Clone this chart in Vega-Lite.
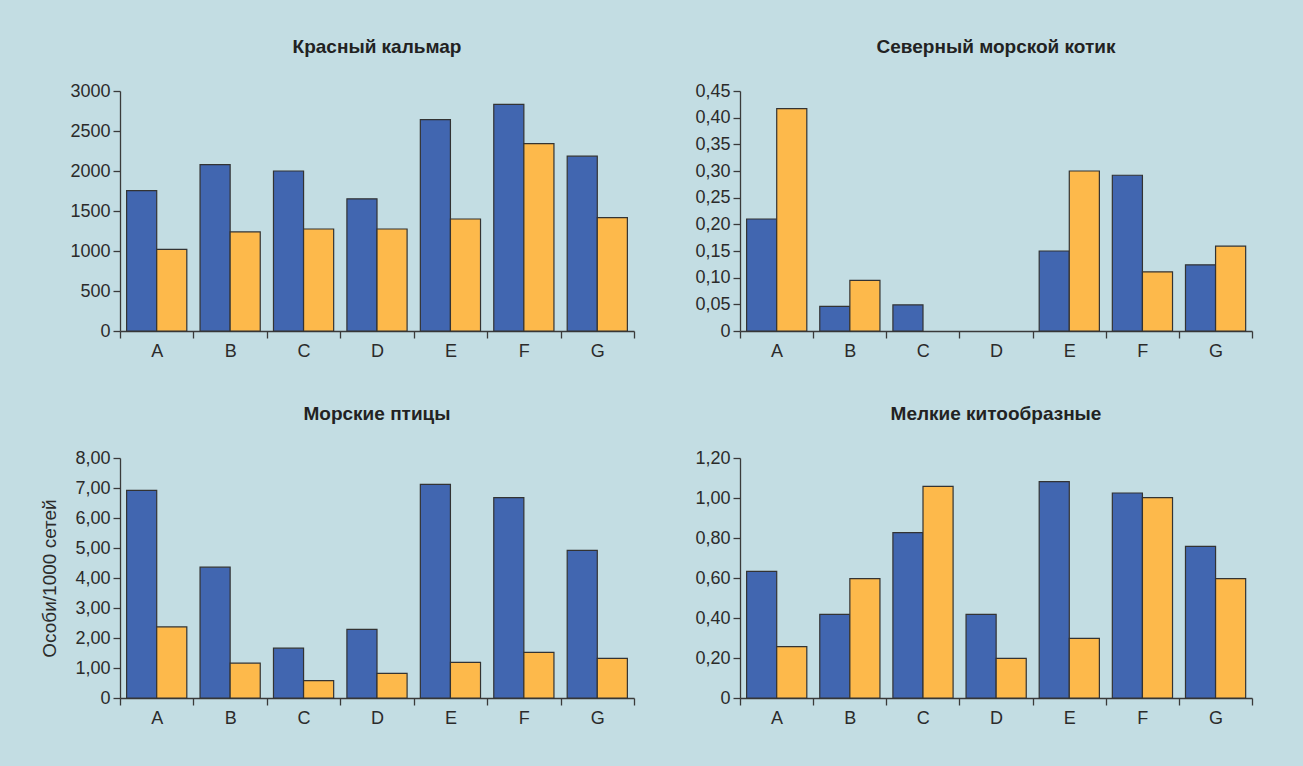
{
  "$schema": "https://vega.github.io/schema/vega-lite/v6.json",
  "background": "#c3dde3",
  "padding": {"left": 40, "top": 38, "right": 50, "bottom": 40},
  "datasets": {
    "kalmar": [
      {"участок": "A", "ряд": "1", "значение": 1755},
      {"участок": "A", "ряд": "2", "значение": 1020},
      {"участок": "B", "ряд": "1", "значение": 2080},
      {"участок": "B", "ряд": "2", "значение": 1238},
      {"участок": "C", "ряд": "1", "значение": 2000},
      {"участок": "C", "ряд": "2", "значение": 1275},
      {"участок": "D", "ряд": "1", "значение": 1652},
      {"участок": "D", "ряд": "2", "значение": 1275},
      {"участок": "E", "ряд": "1", "значение": 2642},
      {"участок": "E", "ряд": "2", "значение": 1400},
      {"участок": "F", "ряд": "1", "значение": 2833},
      {"участок": "F", "ряд": "2", "значение": 2342},
      {"участок": "G", "ряд": "1", "значение": 2185},
      {"участок": "G", "ряд": "2", "значение": 1417}
    ],
    "kotik": [
      {"участок": "A", "ряд": "1", "значение": 0.21},
      {"участок": "A", "ряд": "2", "значение": 0.417},
      {"участок": "B", "ряд": "1", "значение": 0.046},
      {"участок": "B", "ряд": "2", "значение": 0.095},
      {"участок": "C", "ряд": "1", "значение": 0.049},
      {"участок": "E", "ряд": "1", "значение": 0.15},
      {"участок": "E", "ряд": "2", "значение": 0.30},
      {"участок": "F", "ряд": "1", "значение": 0.292},
      {"участок": "F", "ряд": "2", "значение": 0.111},
      {"участок": "G", "ряд": "1", "значение": 0.124},
      {"участок": "G", "ряд": "2", "значение": 0.159}
    ],
    "ptitsy": [
      {"участок": "A", "ряд": "1", "значение": 6.92},
      {"участок": "A", "ряд": "2", "значение": 2.37},
      {"участок": "B", "ряд": "1", "значение": 4.36},
      {"участок": "B", "ряд": "2", "значение": 1.16},
      {"участок": "C", "ряд": "1", "значение": 1.66},
      {"участок": "C", "ряд": "2", "значение": 0.58},
      {"участок": "D", "ряд": "1", "значение": 2.29},
      {"участок": "D", "ряд": "2", "значение": 0.82},
      {"участок": "E", "ряд": "1", "значение": 7.12},
      {"участок": "E", "ряд": "2", "значение": 1.19},
      {"участок": "F", "ряд": "1", "значение": 6.68},
      {"участок": "F", "ряд": "2", "значение": 1.52},
      {"участок": "G", "ряд": "1", "значение": 4.92},
      {"участок": "G", "ряд": "2", "значение": 1.32}
    ],
    "kitoobraznye": [
      {"участок": "A", "ряд": "1", "значение": 0.633},
      {"участок": "A", "ряд": "2", "значение": 0.257},
      {"участок": "B", "ряд": "1", "значение": 0.418},
      {"участок": "B", "ряд": "2", "значение": 0.597},
      {"участок": "C", "ряд": "1", "значение": 0.827},
      {"участок": "C", "ряд": "2", "значение": 1.058},
      {"участок": "D", "ряд": "1", "значение": 0.418},
      {"участок": "D", "ряд": "2", "значение": 0.198},
      {"участок": "E", "ряд": "1", "значение": 1.082},
      {"участок": "E", "ряд": "2", "значение": 0.298},
      {"участок": "F", "ряд": "1", "значение": 1.025},
      {"участок": "F", "ряд": "2", "значение": 1.002},
      {"участок": "G", "ряд": "1", "значение": 0.758},
      {"участок": "G", "ряд": "2", "значение": 0.597}
    ]
  },
  "columns": 2,
  "align": "each",
  "spacing": {"row": 45, "column": 59},
  "concat": [
    {
      "title": "Красный кальмар",
      "width": 514,
      "height": 240,
      "data": {"name": "kalmar"},
      "mark": "bar",
      "encoding": {
        "x": {"field": "участок", "type": "nominal", "scale": {"paddingInner": 0, "paddingOuter": 0}},
        "xOffset": {"field": "ряд", "type": "nominal", "scale": {"paddingInner": 0, "paddingOuter": 0.22}},
        "y": {
          "field": "значение", "type": "quantitative",
          "scale": {"domain": [0, 3000], "nice": false},
          "axis": {"title": null, "values": [0, 500, 1000, 1500, 2000, 2500, 3000], "format": "d"}
        },
        "color": {"field": "ряд", "type": "nominal", "scale": {"range": ["#4166b0", "#fdb94b"]}, "legend": null}
      }
    },
    {
      "title": "Северный морской котик",
      "width": 512,
      "height": 240,
      "data": {"name": "kotik"},
      "mark": "bar",
      "encoding": {
        "x": {"field": "участок", "type": "nominal", "scale": {"domain": ["A", "B", "C", "D", "E", "F", "G"], "paddingInner": 0, "paddingOuter": 0}},
        "xOffset": {"field": "ряд", "type": "nominal", "scale": {"domain": ["1", "2"], "paddingInner": 0, "paddingOuter": 0.22}},
        "y": {
          "field": "значение", "type": "quantitative",
          "scale": {"domain": [0, 0.45], "nice": false},
          "axis": {"title": null, "values": [0, 0.05, 0.1, 0.15, 0.2, 0.25, 0.3, 0.35, 0.4, 0.45],
            "labelExpr": "datum.value === 0 ? '0' : replace(format(datum.value, '.2f'), '.', ',')"}
        },
        "color": {"field": "ряд", "type": "nominal", "scale": {"domain": ["1", "2"], "range": ["#4166b0", "#fdb94b"]}, "legend": null}
      }
    },
    {
      "title": "Морские птицы",
      "width": 514,
      "height": 240,
      "data": {"name": "ptitsy"},
      "mark": "bar",
      "encoding": {
        "x": {"field": "участок", "type": "nominal", "scale": {"paddingInner": 0, "paddingOuter": 0}},
        "xOffset": {"field": "ряд", "type": "nominal", "scale": {"paddingInner": 0, "paddingOuter": 0.22}},
        "y": {
          "field": "значение", "type": "quantitative",
          "scale": {"domain": [0, 8], "nice": false},
          "axis": {"title": "Особи/1000 сетей", "values": [0, 1, 2, 3, 4, 5, 6, 7, 8],
            "labelExpr": "datum.value === 0 ? '0' : replace(format(datum.value, '.2f'), '.', ',')"}
        },
        "color": {"field": "ряд", "type": "nominal", "scale": {"range": ["#4166b0", "#fdb94b"]}, "legend": null}
      }
    },
    {
      "title": "Мелкие китообразные",
      "width": 512,
      "height": 240,
      "data": {"name": "kitoobraznye"},
      "mark": "bar",
      "encoding": {
        "x": {"field": "участок", "type": "nominal", "scale": {"paddingInner": 0, "paddingOuter": 0}},
        "xOffset": {"field": "ряд", "type": "nominal", "scale": {"paddingInner": 0, "paddingOuter": 0.22}},
        "y": {
          "field": "значение", "type": "quantitative",
          "scale": {"domain": [0, 1.2], "nice": false},
          "axis": {"title": null, "values": [0, 0.2, 0.4, 0.6, 0.8, 1.0, 1.2],
            "labelExpr": "datum.value === 0 ? '0' : replace(format(datum.value, '.2f'), '.', ',')"}
        },
        "color": {"field": "ряд", "type": "nominal", "scale": {"range": ["#4166b0", "#fdb94b"]}, "legend": null}
      }
    }
  ],
  "config": {
    "view": {"stroke": null},
    "font": "Liberation Sans",
    "bar": {"stroke": "#333333", "strokeWidth": 1.2},
    "axis": {
      "grid": false,
      "domainColor": "#3a3a3a",
      "domainWidth": 1.3,
      "tickColor": "#3a3a3a",
      "tickWidth": 1.3,
      "tickSize": 7,
      "labelFont": "Liberation Sans",
      "labelFontSize": 18,
      "labelColor": "#2b2b2b",
      "titleFont": "Liberation Sans",
      "titleFontSize": 19,
      "titleFontWeight": "normal",
      "titleColor": "#2b2b2b"
    },
    "axisX": {"tickBand": "extent", "labelAngle": 0, "labelPadding": 4, "labelDx": 6, "title": null},
    "axisY": {"labelPadding": 3, "titlePadding": 15},
    "title": {"font": "Liberation Sans", "fontSize": 19, "fontWeight": "bold", "color": "#222222", "anchor": "middle", "offset": 25}
  }
}
